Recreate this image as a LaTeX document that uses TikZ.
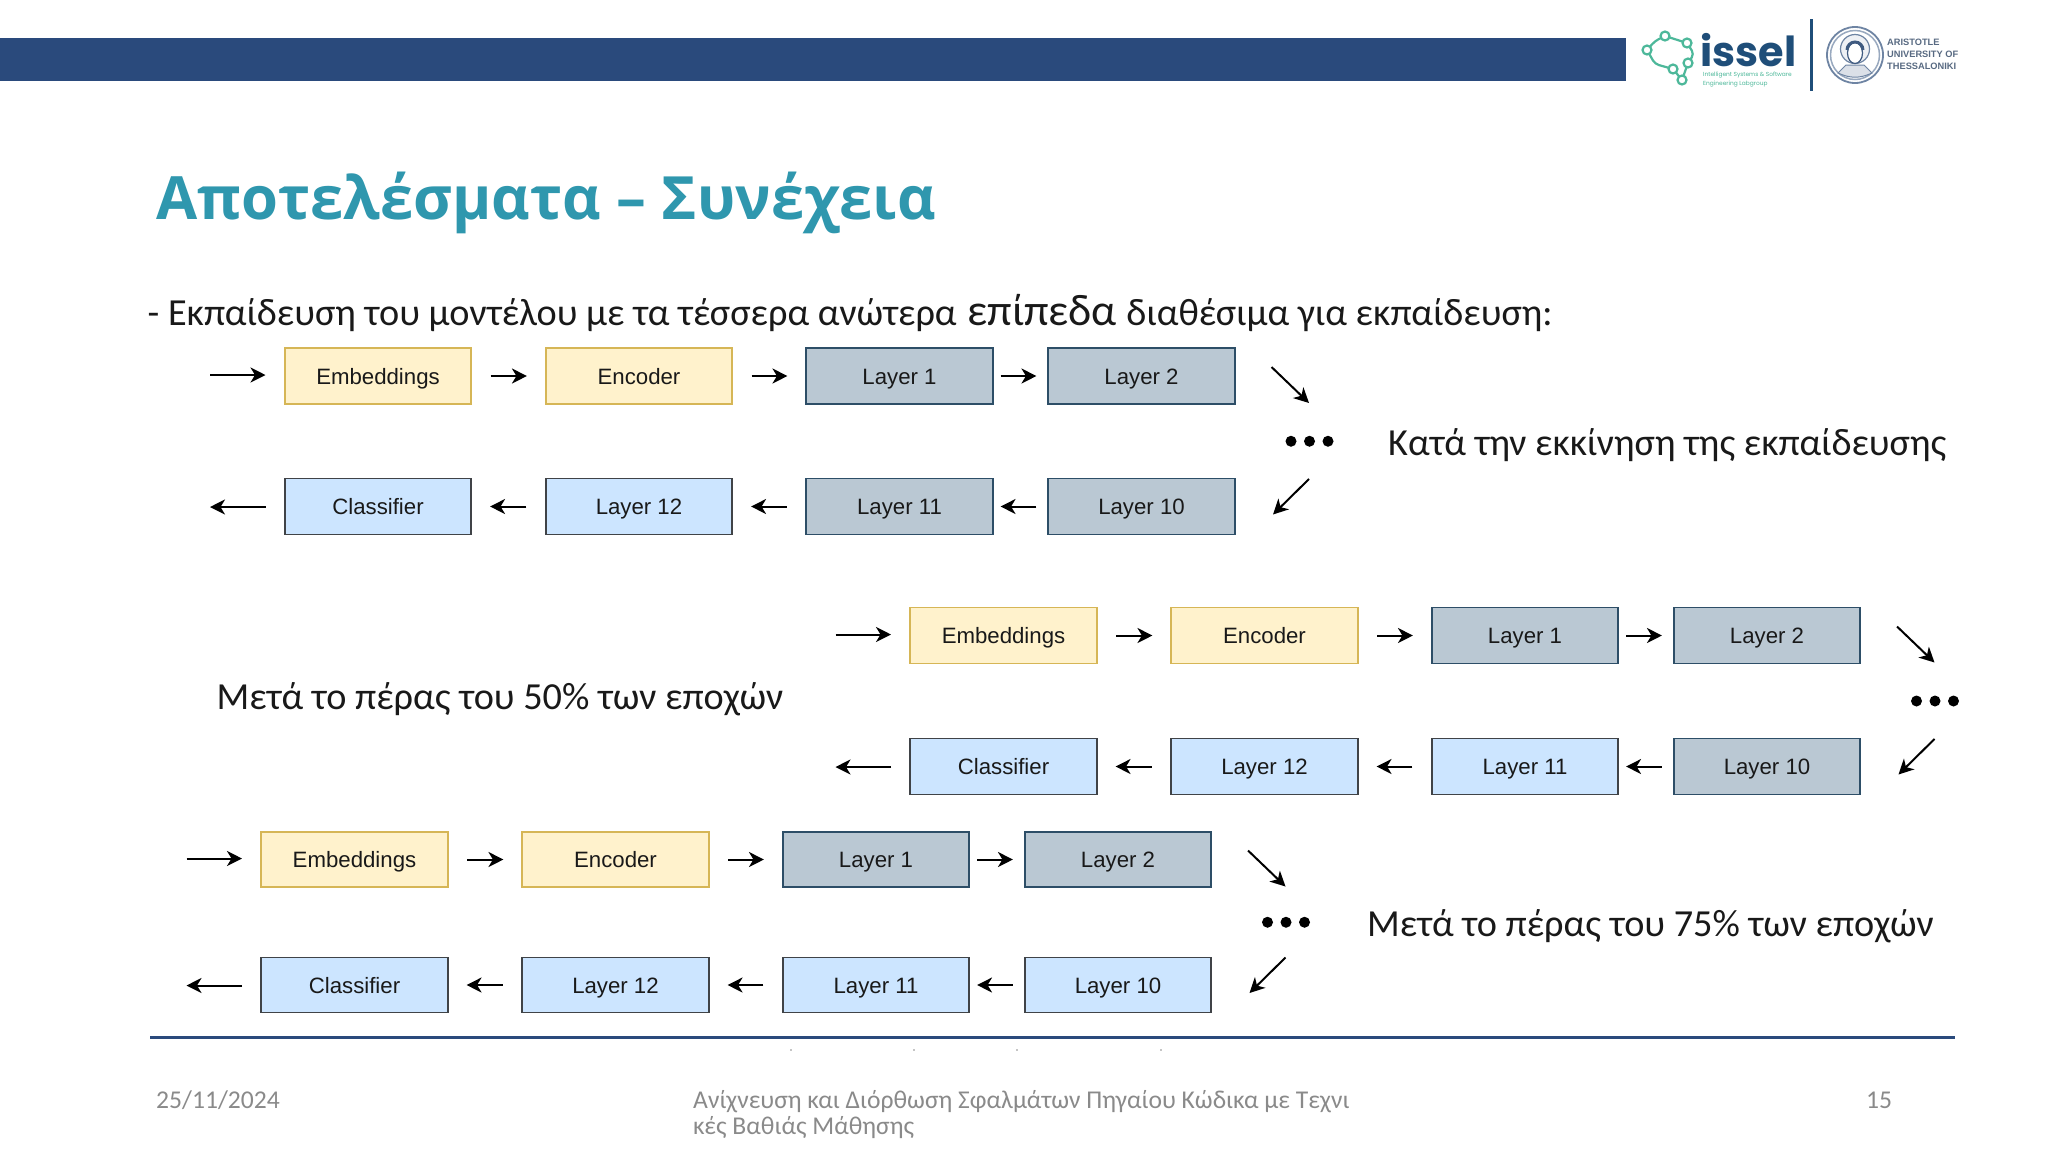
\documentclass[tikz,border=0pt]{standalone}
\usepackage{fontspec}
\setmainfont{Carlito}
\newfontfamily\boxfont{Liberation Sans}
\newfontfamily\titlefont{Open Sans}
\newfontfamily\logofont{Poppins}
\usetikzlibrary{arrows.meta,shapes.geometric}
\definecolor{barblue}{HTML}{2A4A7C}
\definecolor{titleteal}{HTML}{2F97AE}
\definecolor{footgrey}{HTML}{8A8A8A}
\definecolor{logogreen}{HTML}{4DB89A}
\definecolor{logoblue}{HTML}{1F4E79}
\definecolor{sealgrey}{HTML}{6E84A3}
\definecolor{sealdark}{HTML}{3F5A80}
\tikzset{
  x=1bp,y=-1bp,
  blockbase/.style={draw,line width=1.6bp,minimum width=186.5bp,inner sep=0pt,text height=16bp,text depth=0pt,font=\boxfont\fontsize{22.3}{26}\selectfont,text=black!90},
  yellowbox/.style={blockbase,fill={rgb,255:red,255;green,242;blue,204},draw={rgb,255:red,214;green,182;blue,86}},
  greybox/.style={blockbase,fill={rgb,255:red,186;green,200;blue,211},draw={rgb,255:red,45;green,78;blue,103}},
  bluebox/.style={blockbase,fill={rgb,255:red,204;green,229;blue,255},draw={rgb,255:red,64;green,67;blue,71}},
  flow/.style={line width=2bp,black,-{Stealth[length=15bp,width=15bp,inset=4.5bp]}},
  gapa/.style={shorten <=18.5bp,shorten >=18bp},
  gapb/.style={shorten <=7bp,shorten >=11bp},
  gapc/.style={shorten <=11bp,shorten >=7bp},
  bodytext/.style={anchor=base west,inner sep=0pt,font=\fontsize{38.4}{44}\selectfont,text=black!90},
  foottext/.style={anchor=base west,inner sep=0pt,font=\fontsize{25.7}{30}\selectfont,text=footgrey},
  dotmark/.style={circle,fill=black,inner sep=0pt,minimum size=11bp},
  brainpt/.style={circle,draw=logogreen,fill=white,line width=2.2bp,inner sep=0pt,minimum size=9bp},
}
% #1 prefix, #2 x of left box, #3 centre y top row, #4 centre y bottom row, #5 box height, #6 style Layer 11, #7 style Layer 10
\newcommand{\diagrow}[7]{%
  \begin{scope}[every node/.append style={minimum height=#5 bp}]
  \node[yellowbox] (#1emb) at (#2+93.5,#3) {Embeddings};
  \node[yellowbox] (#1enc) at (#2+354.5,#3) {Encoder};
  \node[greybox] (#1la) at (#2+615,#3) {Layer 1};
  \node[greybox] (#1lb) at (#2+857,#3) {Layer 2};
  \node[bluebox] (#1cl) at (#2+93.5,#4) {Classifier};
  \node[bluebox] (#1ll) at (#2+354.5,#4) {Layer 12};
  \node[#6] (#1lk) at (#2+615,#4) {Layer 11};
  \node[#7] (#1lj) at (#2+857,#4) {Layer 10};
  \end{scope}
  \node[dotmark] (#1dm) at (#2+1025,{(#3+#4)/2}) {};
  \node[dotmark] (#1dl) at (#2+1006.5,{(#3+#4)/2}) {};
  \node[dotmark] (#1dr) at (#2+1043.5,{(#3+#4)/2}) {};
  \coordinate (#1in) at (#2-74.5,#3-1);
  \coordinate (#1ine) at (#2-19,#3-1);
  \coordinate (#1ot) at (#2-19,#4+0.5);
  \coordinate (#1ote) at (#2-74.5,#4+0.5);
  \draw[flow] (#1in) -- (#1ine);
  \draw[flow,gapa] (#1emb) -- (#1enc);
  \draw[flow,gapa] (#1enc) -- (#1la);
  \draw[flow,gapb] (#1la) -- (#1lb);
  \draw[flow,gapc] (#1lj) -- (#1lk);
  \draw[flow,gapa] (#1lk) -- (#1ll);
  \draw[flow,gapa] (#1ll) -- (#1cl);
  \draw[flow] (#1ot) -- (#1ote);
  \coordinate (#1da) at (#2+987,#3-9);
  \coordinate (#1db) at (#2+1024.5,#3+27);
  \coordinate (#1dc) at (#2+1024.5,#4-27.5);
  \coordinate (#1dd) at (#2+988.5,#4+8);
  \draw[flow] (#1da) -- (#1db);
  \draw[flow] (#1dc) -- (#1dd);
}
\begin{document}
\begin{tikzpicture}
\useasboundingbox (0,0) rectangle (2048,1152);
\fill[white] (0,0) rectangle (2048,1152);
% header
\fill[barblue] (0,38) rectangle (1626,81);
\draw[logoblue,line width=3bp] (1811,19) -- (1811,91);
% issel logo
\draw[logogreen,line width=2.2bp,rounded corners=4bp] (1665,36) -- (1687,43) -- (1694,54) -- (1688,63) -- (1682,80) -- (1673,69) -- (1655,64) -- (1647,50) -- (1655,41) -- cycle;
\node[brainpt] (ba) at (1665,36) {};
\node[brainpt] (bb) at (1687,43) {};
\node[brainpt] (bc) at (1688,63) {};
\node[brainpt] (bd) at (1673,69) {};
\node[brainpt] (be) at (1682,80) {};
\node[brainpt] (bf) at (1647,50) {};
\node[anchor=base west,inner sep=0pt,text=logoblue,font=\logofont\bfseries\fontsize{41.5}{45}\selectfont] (issel) at (1700,66) {issel};
\node[anchor=north west,inner sep=0pt,text=logogreen,font=\logofont\fontsize{5.9}{9}\selectfont,align=left] (isseltag) at (1703,72) {Intelligent Systems \& Software\\Engineering Labgroup};
% seal
\node[circle,draw=sealgrey,line width=1.8bp,minimum size=56bp,inner sep=0pt,fill=white] (seal) at (1855,55) {};
\node[circle,draw=sealgrey!70,line width=1.5bp,minimum size=49bp,inner sep=0pt,fill=white] (sealin) at (seal) {};
\draw[sealgrey,line width=1bp,fill=sealgrey!25] (1838,73) -- (1846,65) -- (1864,65) -- (1872,73) to[bend left=25] cycle;
\node[circle,draw=sealgrey,line width=1.2bp,minimum size=29bp,inner sep=0pt,fill=sealgrey!12] (sealhalo) at (1855,49) {};
\node[ellipse,draw=sealdark,line width=1.2bp,fill=white,minimum width=15bp,minimum height=21bp,inner sep=0pt] (sealface) at (1855,53) {};
\draw[sealdark,line width=3bp] (1847,50) arc[start angle=180,end angle=0,radius=8bp];
\node[anchor=north west,inner sep=0pt,text=sealgrey!80!black,font=\boxfont\bfseries\fontsize{9.3}{12.2}\selectfont,align=left] (auth) at (1887,39) {ARISTOTLE\\UNIVERSITY OF\\THESSALONIKI};
% title
\node[anchor=base west,inner sep=0pt,text=titleteal,font=\titlefont\bfseries\fontsize{59.9}{70}\selectfont] (title) at (156,219) {Αποτελέσματα – Συνέχεια};
% sub-heading
\node[bodytext] (sub) at (147.5,325) {- Εκπαίδευση του μοντέλου με τα τέσσερα ανώτερα\hspace{2.5bp} {\fontsize{44.4}{44}\selectfont επίπεδα}\hspace{1bp} διαθέσιμα για εκπαίδευση:};
% groups
\diagrow{p}{284.5}{376}{506.5}{56}{greybox}{greybox}
\diagrow{q}{910}{635.5}{766.5}{56}{bluebox}{greybox}
\diagrow{r}{261}{859.5}{985}{55}{bluebox}{bluebox}
\node[bodytext] (lp) at (1388,455) {Κατά την εκκίνηση της εκπαίδευσης};
\node[bodytext] (lq) at (216.5,709) {Μετά το πέρας του 50\% των εποχών};
\node[bodytext] (lr) at (1367,936.5) {Μετά το πέρας του 75\% των εποχών};
% footer
\draw[barblue,line width=3.2bp] (150,1037.5) -- (1955,1037.5);
\foreach \px in {791,914,1017,1161} \fill[footgrey] (\px,1050) circle[radius=0.8bp];
\node[foottext] (fd) at (156,1108.5) {25/11/2024};
\node[foottext] (fa) at (693,1108.5) {Ανίχνευση και Διόρθωση Σφαλμάτων Πηγαίου Κώδικα με Τεχνι};
\node[foottext] (fb) at (693,1134) {κές Βαθιάς Μάθησης};
\node[foottext] (fn) at (1866,1108.5) {15};
\end{tikzpicture}
\end{document}
